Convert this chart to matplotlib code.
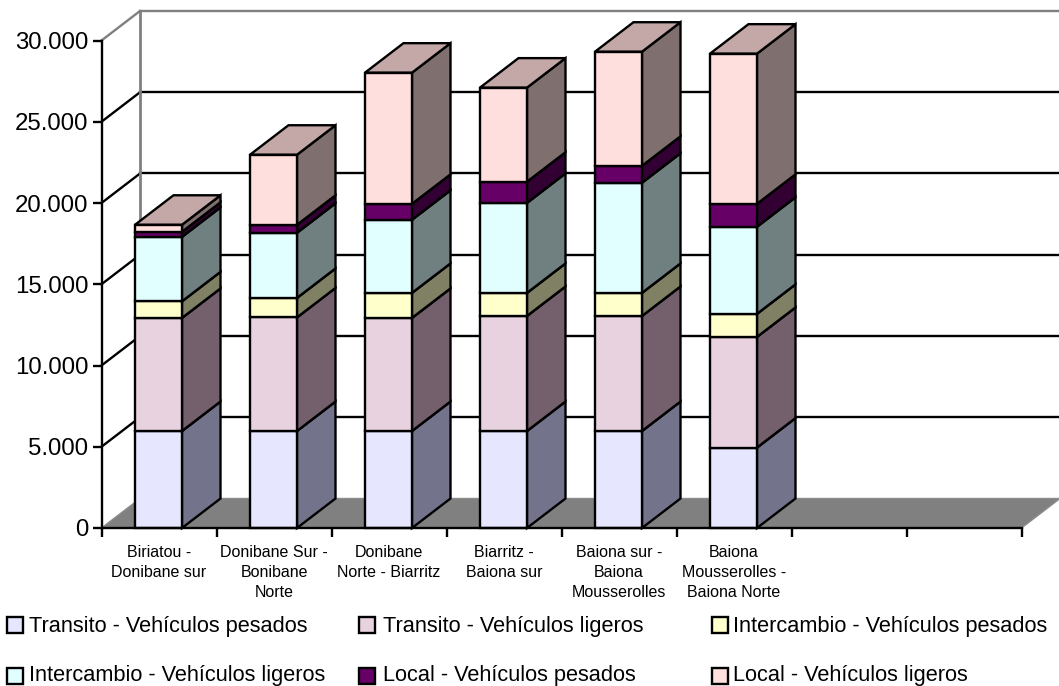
import matplotlib
matplotlib.use('Agg')
import numpy as np
import matplotlib.pyplot as plt
from matplotlib.patches import Polygon, Rectangle

plt.rcParams['font.family'] = ['Liberation Sans', 'DejaVu Sans']

categories = [
    'Biriatou -\nDonibane sur',
    'Donibane Sur -\nBonibane\nNorte',
    'Donibane\nNorte - Biarritz',
    'Biarritz -\nBaiona sur',
    'Baiona sur -\nBaiona\nMousserolles',
    'Baiona\nMousserolles -\nBaiona Norte',
]
slots = 8
y_ticks = [0, 5000, 10000, 15000, 20000, 25000, 30000]

transito_pesados = [5970, 5970, 5970, 5970, 5970, 4950]
transito_ligeros = [6960, 6990, 6960, 7080, 7080, 6810]
intercambio_pesados = [1020, 1200, 1540, 1420, 1420, 1420]
intercambio_ligeros = [3970, 4010, 4500, 5540, 6780, 5360]
local_pesados = [310, 490, 980, 1300, 1040, 1410]
local_ligeros = [430, 4310, 8070, 5790, 7020, 9240]

series_names = [
    'Transito - Vehículos pesados',
    'Transito - Vehículos ligeros',
    'Intercambio - Vehículos pesados',
    'Intercambio - Vehículos ligeros',
    'Local - Vehículos pesados',
    'Local - Vehículos ligeros',
]
series_values = [transito_pesados, transito_ligeros, intercambio_pesados,
                 intercambio_ligeros, local_pesados, local_ligeros]
front_colors = ['#E6E6FF', '#E8D2E0', '#FFFFCC', '#E2FFFF', '#660066', '#FFDEDE']
side_colors = ['#73738C', '#745F6C', '#808064', '#708080', '#330033', '#806F6F']
top_colors = ['#ACACBF', '#AE9DA8', '#BFBF99', '#A9BFBF', '#4C004C', '#C4A8A8']

W, H = 1059, 686
fig = plt.figure(figsize=(W / 100, H / 100), dpi=100, facecolor='white')
ax = fig.add_axes([101.5 / W, (H - 528) / H, 920 / W, 487.5 / H])
ax.set_xlim(0, slots)
ax.set_ylim(0, 30000)
ax.patch.set_visible(False)

# depth of the fake 3d box, in data units
dx = 38.5 / 115
dy = 29.5 * 30000 / 487.5
bar_left = 33.5 / 115
bar_w = 47 / 115
lw = 1.7

# floor
ax.add_patch(Polygon([(0, 0), (dx, dy), (slots + dx, dy), (slots, 0)], closed=True,
                     facecolor='#808080', edgecolor='#8c8c8c', lw=1, clip_on=False, zorder=1))

# walls and gridlines
for v in y_ticks[1:]:
    c = '#808080' if v == 30000 else 'black'
    ax.plot([0, dx], [v, v + dy], color=c, lw=lw, clip_on=False, zorder=1)
    ax.plot([dx, slots + dx], [v + dy, v + dy], color=c, lw=lw, clip_on=False, zorder=1)
ax.plot([dx, dx], [dy, 30000 + dy], color='#808080', lw=2, clip_on=False, zorder=1.5)
ax.plot([slots + dx, slots + dx], [dy, 30000 + dy], color='#c8c8c8', lw=1, clip_on=False, zorder=1)


def draw_segment(x0, y0, y1, fc, sc, tc):
    x1 = x0 + bar_w
    ax.add_patch(Polygon([(x1, y0), (x1 + dx, y0 + dy), (x1 + dx, y1 + dy), (x1, y1)], closed=True,
                         facecolor=sc, edgecolor='black', lw=lw, clip_on=False, zorder=2))
    ax.add_patch(Polygon([(x0, y1), (x0 + dx, y1 + dy), (x1 + dx, y1 + dy), (x1, y1)], closed=True,
                         facecolor=tc, edgecolor='black', lw=lw, clip_on=False, zorder=2))
    ax.add_patch(Rectangle((x0, y0), bar_w, y1 - y0, facecolor=fc, edgecolor='black',
                           lw=lw, clip_on=False, zorder=2))


for i in range(len(categories)):
    base = 0
    for vals, fc, sc, tc in zip(series_values, front_colors, side_colors, top_colors):
        draw_segment(i + bar_left, base, base + vals[i], fc, sc, tc)
        base += vals[i]

# axes
for side in ['top', 'right']:
    ax.spines[side].set_visible(False)
for side in ['left', 'bottom']:
    ax.spines[side].set_linewidth(lw)
    ax.spines[side].set_zorder(3)
ax.set_yticks(y_ticks)
ax.set_yticklabels([f'{v:,}'.replace(',', '.') for v in y_ticks], fontsize=17.3)
ax.tick_params(axis='y', length=6.5, width=lw, pad=3)
ax.set_xticks(np.arange(slots + 1))
ax.set_xticklabels([])
ax.tick_params(axis='x', which='major', length=6.5, width=lw)
ax.set_xticks(np.arange(len(categories)) + 0.5, minor=True)
ax.set_xticklabels(categories, minor=True, fontsize=11.5, linespacing=1.45, va='top')
ax.tick_params(axis='x', which='minor', length=0, pad=12)

# legend, laid out by hand in pixels
legend_x = [7, 359, 712]
text_x = [29, 383, 733]
box_mid = [624.5, 675.5]
baseline = [632, 681]
for k, name in enumerate(series_names):
    col = k % 3
    row = k // 3
    fig.add_artist(Rectangle((legend_x[col] / W, (H - box_mid[row] - 8) / H), 16 / W, 16 / H,
                             facecolor=front_colors[k], edgecolor='black', lw=lw,
                             transform=fig.transFigure))
    fig.text(text_x[col] / W, (H - baseline[row]) / H, name, fontsize=15.65, ha='left', va='baseline')

fig.savefig('out.png', dpi=100)
